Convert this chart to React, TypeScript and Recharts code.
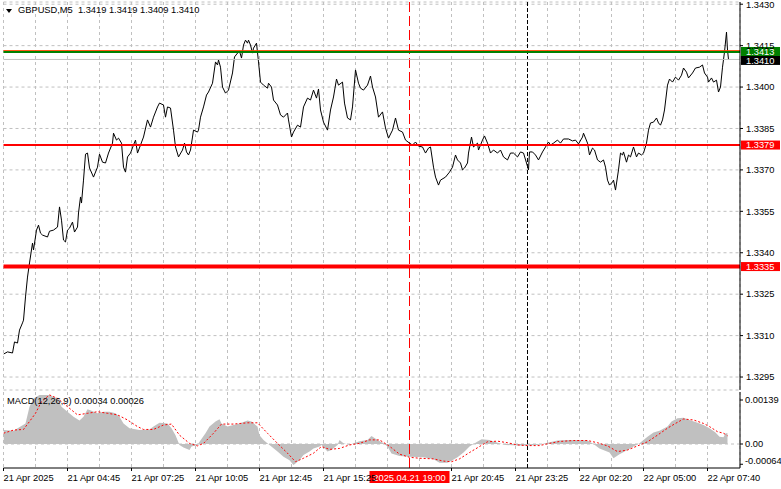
import React from 'react';
import {
  ComposedChart,
  Line,
  Area,
  XAxis,
  YAxis,
  CartesianGrid,
  ReferenceLine,
  ReferenceArea,
} from 'recharts';

const FONT = '"Liberation Sans", Arial, sans-serif';
const FONT_SIZE = 9.3;

// x = 5-minute bar index counted from the first bar on screen (21 Apr 02:05)
const BAR_DOMAIN = [0, 368.25];
const gridBars = [0, 16, 32, 48, 64, 80, 96, 112, 128, 144, 160, 176, 192, 208, 224, 240, 256, 272, 288, 304, 320, 336, 352];
const timeLabelBars = [0, 32, 64, 96, 128, 160, 224, 256, 288, 320, 352];
const timeLabelText = [
  '21 Apr 2025',
  '21 Apr 04:45',
  '21 Apr 07:25',
  '21 Apr 10:05',
  '21 Apr 12:45',
  '21 Apr 15:25',
  '21 Apr 20:45',
  '21 Apr 23:25',
  '22 Apr 02:20',
  '22 Apr 05:00',
  '22 Apr 07:40',
];
const SESSION_BAR = 203; // 2025.04.21 19:00
const DAY_BAR = 262; // 22 Apr 00:00
const SESSION_LABEL = '2025.04.21 19:00';

// GBPUSD M5 close, [bar, price]
const priceTrace: Array<[number, number]> = [
  [0, 1.33033], [2, 1.33041], [4.5, 1.33037], [5.5, 1.33077], [7, 1.33073], [8, 1.3312],
  [9.5, 1.33146], [10, 1.33156], [11, 1.3324], [12, 1.33312], [13, 1.33363], [14.5, 1.33435],
  [15, 1.3341], [16.5, 1.33482], [17.5, 1.335], [18.5, 1.33471], [19.5, 1.33464], [22, 1.33457],
  [23, 1.33478], [25, 1.33482], [27, 1.33493], [28, 1.33566], [29, 1.33518], [30, 1.33446],
  [31, 1.33439], [32, 1.33482], [33, 1.33489], [34.5, 1.33511], [35.5, 1.33475], [37, 1.33493],
  [37.5, 1.33544], [38.5, 1.33602], [39, 1.3358], [40, 1.33663], [41, 1.33757], [42, 1.33761],
  [43, 1.33707], [45, 1.33674], [47, 1.3371], [48, 1.33757], [49.5, 1.33728], [51, 1.33725],
  [52.5, 1.33761], [54.5, 1.33797], [55, 1.33833], [56.5, 1.33808], [57.5, 1.33815], [59, 1.33797],
  [60, 1.3371], [61, 1.33692], [62, 1.33747], [63.5, 1.33761], [65, 1.3379], [66, 1.33808],
  [67, 1.33761], [68.5, 1.3379], [70, 1.33819], [72, 1.33881], [73.5, 1.33855], [75, 1.33891],
  [77, 1.33928], [78, 1.33942], [80, 1.33935], [81, 1.33891], [82, 1.33928], [83.5, 1.33924],
  [85, 1.33844], [86, 1.33783], [87.5, 1.33747], [89.5, 1.33772], [90.5, 1.33797], [91.5, 1.33765],
  [92.5, 1.33754], [93.5, 1.33772], [94.5, 1.33819], [95, 1.33844], [97, 1.33837], [97.5, 1.33844],
  [98.5, 1.33891], [100, 1.33928], [101.5, 1.33971], [102.5, 1.33982], [104.5, 1.34014], [106, 1.34091],
  [107, 1.3408], [107.5, 1.34098], [108.5, 1.34072], [109.5, 1.34], [111, 1.33978], [112.5, 1.33989],
  [114.5, 1.34051], [115.5, 1.34109], [117, 1.34123], [118, 1.3413], [119, 1.34105], [120, 1.34152],
  [121, 1.3417], [122, 1.34159], [122.5, 1.3417], [123.5, 1.34152], [124.5, 1.34123], [125, 1.34141],
  [126.5, 1.34159], [127.5, 1.34091], [128.5, 1.34018], [130, 1.34007], [132, 1.33996], [132.5, 1.34014],
  [134, 1.34], [135, 1.33953], [137, 1.33935], [138.5, 1.33899], [140, 1.33891], [142, 1.33906],
  [142.5, 1.33881], [144, 1.33819], [145, 1.33837], [147, 1.33862], [148.5, 1.33855], [150, 1.33928],
  [152, 1.3396], [153.5, 1.33953], [155, 1.33989], [156.5, 1.3396], [157.5, 1.33993], [158.5, 1.33917],
  [160, 1.33873], [162, 1.33844], [163.5, 1.33917], [165, 1.33964], [166.5, 1.34029], [167.5, 1.34007],
  [169.5, 1.34018], [170.5, 1.33942], [172, 1.33888], [173.5, 1.33881], [174.5, 1.33928], [176, 1.34062],
  [177.5, 1.34014], [178.5, 1.33996], [180, 1.33989], [182, 1.34007], [183.5, 1.3404], [184.5, 1.34],
  [186, 1.33964], [187.5, 1.33891], [189.5, 1.3391], [191, 1.33852], [192.5, 1.33815], [194.5, 1.33844],
  [196, 1.33888], [197.5, 1.33844], [199.5, 1.33837], [201, 1.33808], [203, 1.33797], [204.5, 1.3379],
  [206, 1.33801], [207.5, 1.33786], [209.5, 1.33783], [211, 1.33761], [212.5, 1.33779], [213.5, 1.33783],
  [215, 1.3371], [216, 1.33674], [217.5, 1.33645], [218.5, 1.33663], [221, 1.33674], [223, 1.33692],
  [224.5, 1.3371], [226, 1.33754], [227, 1.33736], [228.5, 1.33725], [229.5, 1.337], [230.5, 1.33707],
  [232, 1.33725], [232.5, 1.33761], [234, 1.33819], [235, 1.33783], [237, 1.33797], [237.5, 1.33772],
  [239.5, 1.33808], [240.5, 1.33823], [242, 1.33797], [243.5, 1.33761], [245, 1.33772], [247, 1.33761],
  [248.5, 1.33772], [250, 1.33747], [252, 1.33736], [253.5, 1.33761], [255, 1.33761], [257, 1.33747],
  [258.5, 1.33765], [260, 1.33761], [261.5, 1.33725], [262.5, 1.337], [263, 1.33765], [264.5, 1.33765],
  [266, 1.33754], [267.5, 1.33736], [269.5, 1.33765], [271, 1.33783], [272.5, 1.33801], [273.5, 1.3379],
  [275, 1.33797], [277, 1.33808], [278.5, 1.33797], [280, 1.33812], [282.5, 1.33812], [284.5, 1.33805],
  [286, 1.33808], [287.5, 1.33794], [289.5, 1.33819], [290, 1.33833], [292, 1.33797], [293, 1.33754],
  [294.5, 1.33779], [295.5, 1.33772], [297, 1.33736], [298.5, 1.33728], [300, 1.33736], [301, 1.3371],
  [302, 1.33663], [303, 1.33645], [304.5, 1.33656], [305, 1.33663], [306, 1.33627], [307.5, 1.337],
  [308.5, 1.33761], [309.5, 1.33754], [310, 1.33765], [311.5, 1.33728], [312.5, 1.33754], [313.5, 1.33747],
  [315, 1.33783], [316.5, 1.33747], [317.5, 1.33761], [319, 1.33754], [320, 1.33761], [321.5, 1.33797],
  [322.5, 1.33844], [323.5, 1.3387], [325, 1.33873], [326.5, 1.33888], [327.5, 1.3387], [328.5, 1.33862],
  [329.5, 1.33881], [330.5, 1.33917], [332, 1.34007], [333, 1.34029], [334.5, 1.34018], [336, 1.34036],
  [337.5, 1.34025], [339, 1.34043], [340, 1.34069], [341.5, 1.34054], [342.5, 1.34033], [344.5, 1.34051],
  [346, 1.34069], [348, 1.34072], [349.5, 1.3408], [350.5, 1.34051], [352, 1.34036], [352.5, 1.34018],
  [354, 1.34033], [355, 1.34018], [356.5, 1.34025], [357.5, 1.33982], [358.5, 1.34], [359.5, 1.34072],
  [360.5, 1.34127], [361.5, 1.34199], [362, 1.34134], [362.5, 1.341],
];

const PRICE_DOMAIN = [1.32903, 1.34308];
const priceTicks = [1.3295, 1.331, 1.3325, 1.334, 1.3355, 1.337, 1.3385, 1.34, 1.3415, 1.343];

const ASK_LEVEL = 1.34132;
const TARGET_LEVEL = 1.34127;
const BID_LEVEL = 1.341;
const SUPPORT_1 = 1.3379;
const SUPPORT_2 = 1.3335;

// MACD(12,26,9): histogram (main) and signal, [bar, value]
const macdMain: Array<[number, number]> = [
  [0, 0.00044], [5, 0.00042], [11, 0.00065], [13, 0.00118], [15, 0.00144], [18, 0.00155],
  [23, 0.00155], [27, 0.00144], [29, 0.00118], [32, 0.00102], [35, 0.00086], [38, 0.00074],
  [40, 0.00086], [42, 0.0011], [44, 0.00105], [47, 0.00097], [50, 0.00102], [53, 0.00102],
  [56, 0.00097], [58, 0.00086], [60, 0.00065], [63, 0.0005], [68, 0.00044], [73, 0.00046],
  [75, 0.00055], [78, 0.00067], [82, 0.00065], [84, 0.0005], [86, 0.00028], [88, -0.00003],
  [90, -0.00011], [93, -0.00019], [94, -0.00008], [97, -0.00003], [98, 0.00007], [101, 0.00034],
  [103, 0.00055], [106, 0.00071], [108, 0.00078], [109, 0.00065], [112, 0.00055], [115, 0.0006],
  [118, 0.00065], [122, 0.00074], [124, 0.00071], [127, 0.00055], [128, 0.00028], [130, 0.00013],
  [133, -0.00003], [137, -0.00024], [140, -0.0004], [143, -0.00051], [145, -0.00066], [148, -0.00051],
  [150, -0.00035], [153, -0.00024], [155, -0.00014], [158, -0.00008], [159, -0.00003], [162, -0.00024],
  [164, -0.00019], [167, -0.00003], [168, 0.00013], [170, 0.00002], [173, -0.00003], [175, 0.00002],
  [178, 0.00009], [182, 0.00013], [184, 0.00025], [187, 0.00013], [190, 0.00002], [192, -0.00008],
  [194, -0.0003], [198, -0.00038], [203, -0.0004], [210, -0.00042], [215, -0.00048], [218, -0.00059],
  [222, -0.00059], [224, -0.00053], [227, -0.00042], [230, -0.00027], [233, -0.00008], [236, 0.00004],
  [239, 0.00015], [243, 0.00013], [247, 0.00004], [251, -0.00003], [257, -0.00005], [262, -0.00005],
  [267, -0.00003], [272, 0.00004], [277, 0.00011], [282, 0.00013], [287, 0.00013], [292, 0.00011],
  [295, 0], [298, -0.00014], [303, -0.00027], [305, -0.00045], [308, -0.00032], [312, -0.00019],
  [315, -0.00008], [318, 0.00002], [322, 0.00023], [325, 0.00036], [328, 0.00042], [332, 0.00055],
  [334, 0.00071], [337, 0.00081], [340, 0.00083], [343, 0.00076], [347, 0.00067], [350, 0.0006],
  [353, 0.0005], [356, 0.00036], [358, 0.00023], [360, 0.00021], [361, 0.00034], [362, 0.00034],
];

const macdSignal: Array<[number, number]> = [
  [0, 0.00034], [5, 0.00044], [10, 0.00046], [13, 0.00071], [16, 0.00097], [19, 0.00134],
  [23, 0.00155], [27, 0.00144], [32, 0.00118], [37, 0.00092], [42, 0.00097], [47, 0.00102],
  [52, 0.00097], [57, 0.00092], [62, 0.00076], [67, 0.00055], [70, 0.00046], [75, 0.00046],
  [80, 0.0006], [84, 0.00063], [88, 0.00028], [93, 0.00002], [97, -0.00006], [100, 0.00002],
  [105, 0.00034], [109, 0.00063], [115, 0.00063], [122, 0.00067], [127, 0.00067], [132, 0.00034],
  [137, 0.00002], [142, -0.00029], [146, -0.00056], [150, -0.00045], [155, -0.00029], [159, -0.00008],
  [163, -0.00017], [168, -0.00014], [173, -0.00003], [178, 0.00002], [183, 0.00013], [188, 0.00013],
  [192, -0.00003], [194, -0.00012], [198, -0.00032], [203, -0.00042], [208, -0.00045], [215, -0.00047],
  [220, -0.00054], [224, -0.00056], [228, -0.00047], [233, -0.00027], [238, -0.00008], [242, 0.00007],
  [247, 0.00009], [252, 0.00004], [257, -0.00003], [262, -0.00005], [268, -0.00005], [273, 0.00002],
  [278, 0.00008], [285, 0.00011], [292, 0.00011], [297, 0.00004], [302, -0.00006], [307, -0.00024],
  [312, -0.00019], [317, -0.00006], [322, 0.00007], [327, 0.00028], [332, 0.0005], [336, 0.00065],
  [340, 0.00079], [345, 0.00076], [350, 0.00065], [353, 0.00055], [357, 0.00039], [360, 0.00034],
  [362, 0.00026],
];

const MACD_DOMAIN = [-0.000758, 0.001643];
const macdTicks = [-0.00064, 0, 0.00139];

const TITLE = 'GBPUSD,M5  1.3419 1.3419 1.3409 1.3410';
const MACD_TITLE = 'MACD(12,26,9) 0.00034 0.00026';

const priceData = priceTrace.map(([b, p]) => ({b, p}));
const mainData = macdMain.map(([b, v]) => ({b, v}));
const signalData = macdSignal.map(([b, v]) => ({b, v}));

const textStyle = {fontFamily: FONT, fontSize: FONT_SIZE};

const PriceTick = (props: any) => {
  const {x, y, payload} = props;
  return (
    <text x={x} y={y} dy={3.3} fill="#000" style={textStyle}>
      {payload.value.toFixed(4)}
    </text>
  );
};

const MacdTick = (props: any) => {
  const {x, y, payload} = props;
  const v = payload.value;
  return (
    <text x={x} y={y} dy={v < 0 ? 0 : 3.3} fill="#000" style={textStyle}>
      {v === 0 ? '0.00' : v.toFixed(5)}
    </text>
  );
};

const TimeTick = (props: any) => {
  const {x, y, payload} = props;
  const i = timeLabelBars.indexOf(payload.value);
  if (i < 0) return <g />;
  return (
    <g>
      <line x1={x} y1={y} x2={x} y2={y + 3} stroke="#000" />
      <text x={x} y={y + 13} fill="#000" style={textStyle}>
        {timeLabelText[i]}
      </text>
    </g>
  );
};

// boxed value on the price scale, at the height of a horizontal line
// (shift nudges a tag off its line when two tags sit close together)
const priceTag = (bg: string, text: string, shift = 0) => (props: any) => {
  const {viewBox} = props;
  if (!viewBox) return null;
  const left = viewBox.x + viewBox.width + 1;
  const mid = viewBox.y + shift;
  return (
    <g>
      <rect x={left} y={mid - 4.5} width={39} height={9} fill={bg} />
      <text x={left + 5} y={mid} dy={3.3} fill="#fff" style={textStyle}>
        {text}
      </text>
    </g>
  );
};

const timeTag = (props: any) => {
  const {viewBox} = props;
  if (!viewBox) return null;
  const bottom = viewBox.y + viewBox.height;
  return (
    <g>
      <rect x={viewBox.x - 40} y={bottom + 3} width={80} height={12} fill="#ff0000" />
      <text x={viewBox.x} y={bottom + 13} textAnchor="middle" fill="#fff" style={textStyle}>
        {SESSION_LABEL}
      </text>
    </g>
  );
};

export default function App() {
  return (
    <div
      style={{
        position: 'absolute',
        left: 0,
        top: 0,
        width: 781,
        height: 489,
        background: '#fff',
        overflow: 'hidden',
      }}>
      <div style={{position: 'absolute', left: 0, top: 0}}>
        <ComposedChart width={781} height={391} margin={{top: 2, right: 0, bottom: 1, left: 3.5}}>
          <CartesianGrid stroke="#c0c0c0" strokeDasharray="3 3" />
          <XAxis type="number" dataKey="b" domain={BAR_DOMAIN} ticks={gridBars} hide allowDataOverflow />
          <YAxis
            orientation="right"
            type="number"
            domain={PRICE_DOMAIN}
            ticks={priceTicks}
            interval={0}
            width={41}
            allowDataOverflow
            axisLine={{stroke: '#000'}}
            tickLine={{stroke: '#000'}}
            tickSize={3}
            tickMargin={3}
            tick={PriceTick}
          />
          <ReferenceLine x={SESSION_BAR} stroke="#ff0000" strokeDasharray="10 4" />
          <ReferenceLine x={DAY_BAR} stroke="#000" strokeDasharray="4 2" />
          <Line
            data={priceData}
            dataKey="p"
            type="linear"
            stroke="#000"
            strokeWidth={1}
            dot={false}
            isAnimationActive={false}
          />
          <ReferenceLine y={BID_LEVEL} stroke="#c0c0c0" label={priceTag('#000', BID_LEVEL.toFixed(4), 1)} />
          <ReferenceLine y={ASK_LEVEL} stroke="#ff4500" strokeWidth={1} />
          <ReferenceLine
            y={TARGET_LEVEL}
            stroke="#008000"
            strokeWidth={2}
            label={priceTag('#008000', TARGET_LEVEL.toFixed(4), -0.5)}
          />
          <ReferenceLine y={SUPPORT_1} stroke="#ff0000" strokeWidth={2} label={priceTag('#ff0000', SUPPORT_1.toFixed(4))} />
          <ReferenceLine y={SUPPORT_2} stroke="#ff0000" strokeWidth={4} label={priceTag('#ff0000', SUPPORT_2.toFixed(4))} />
          <ReferenceArea fill="none" stroke="#000" />
        </ComposedChart>
      </div>

      <div style={{position: 'absolute', left: 0, top: 391}}>
        <ComposedChart width={781} height={98} margin={{top: 1, right: 0, bottom: 0, left: 3.5}}>
          <CartesianGrid stroke="#c0c0c0" strokeDasharray="3 3" horizontal={false} />
          <XAxis
            type="number"
            dataKey="b"
            domain={BAR_DOMAIN}
            ticks={gridBars}
            interval={0}
            height={21}
            allowDataOverflow
            axisLine={{stroke: '#000'}}
            tickLine={false}
            tickSize={0}
            tickMargin={0}
            tick={TimeTick}
          />
          <YAxis
            orientation="right"
            type="number"
            domain={MACD_DOMAIN}
            ticks={macdTicks}
            interval={0}
            width={41}
            allowDataOverflow
            axisLine={{stroke: '#000'}}
            tickLine={{stroke: '#000'}}
            tickSize={3}
            tickMargin={2}
            tick={MacdTick}
          />
          <ReferenceLine y={0} stroke="#c0c0c0" strokeDasharray="3 3" />
          <Area
            data={mainData}
            dataKey="v"
            type="linear"
            stroke="none"
            fill="#c0c0c0"
            fillOpacity={1}
            isAnimationActive={false}
          />
          <Line
            data={signalData}
            dataKey="v"
            type="linear"
            stroke="#ff0000"
            strokeWidth={1}
            strokeDasharray="2 2"
            dot={false}
            isAnimationActive={false}
          />
          <ReferenceLine x={SESSION_BAR} stroke="#ff0000" strokeDasharray="10 4" label={timeTag} />
          <ReferenceLine x={DAY_BAR} stroke="#000" strokeDasharray="4 2" />
          <ReferenceArea fill="none" stroke="#000" />
        </ComposedChart>
      </div>

      <div
        style={{
          position: 'absolute',
          left: 6,
          top: 5,
          fontFamily: FONT,
          fontSize: FONT_SIZE,
          lineHeight: '11px',
          whiteSpace: 'pre',
          color: '#000',
          display: 'flex',
          alignItems: 'center',
        }}>
        <svg width={12} height={11}>
          <polygon points="0,4 6,4 3,8" fill="#000" />
        </svg>
        <span>{TITLE}</span>
      </div>
      <div
        style={{
          position: 'absolute',
          left: 7,
          top: 396,
          fontFamily: FONT,
          fontSize: FONT_SIZE,
          lineHeight: '11px',
          whiteSpace: 'pre',
          color: '#000',
        }}>
        {MACD_TITLE}
      </div>
    </div>
  );
}
